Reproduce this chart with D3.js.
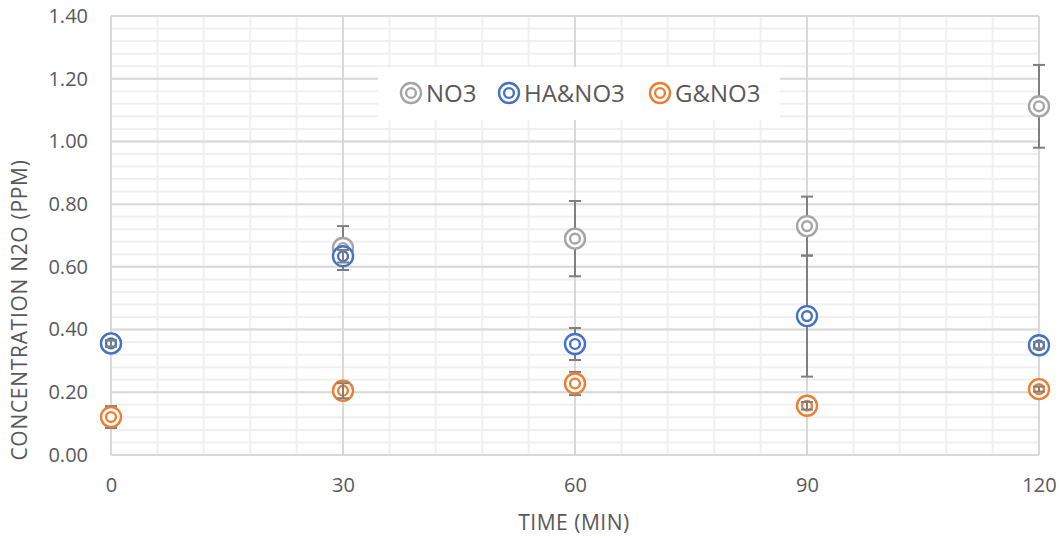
<!DOCTYPE html>
<html>
<head>
<meta charset="utf-8">
<script src="https://cdn.jsdelivr.net/npm/d3@7"></script>
<style>
  body { margin: 0; background: #fff; }
  text { font-family: "Open Sans", sans-serif; fill: #595959; }
</style>
</head>
<body>
<svg id="chart" width="1059" height="538"></svg>
<script>
// values
var times = [0, 30, 60, 90, 120];
var seriesNames = ["NO3", "HA&NO3", "G&NO3"];
var seriesColors = ["#a5a5a5", "#4472c4", "#ed7d31"];
var no3 = [0.355, 0.66, 0.69, 0.73, 1.112];
var no3Err = [0.01, 0.07, 0.12, 0.094, 0.132];
var haNo3 = [0.356, 0.634, 0.354, 0.443, 0.35];
var haNo3Err = [0.01, 0.02, 0.051, 0.193, 0.01];
var gNo3 = [0.121, 0.205, 0.228, 0.157, 0.21];
var gNo3Err = [0.035, 0.024, 0.037, 0.012, 0.008];
var xTicks = [0, 30, 60, 90, 120];
var yTicks = [0, 0.2, 0.4, 0.6, 0.8, 1.0, 1.2, 1.4];

var seriesValues = [no3, haNo3, gNo3];
var seriesErrs = [no3Err, haNo3Err, gNo3Err];

var svg = d3.select("#chart");
var x = d3.scaleLinear().domain([0, 120]).range([111, 1039]);
var y = d3.scaleLinear().domain([0, 1.4]).range([455, 16]);

// minor grid
var minorY = d3.range(0, 1.4001, 0.04);
var minorX = d3.range(0, 120.001, 6);
svg.append("g").selectAll("line").data(minorY).enter().append("line")
    .attr("x1", x(0)).attr("x2", x(120))
    .attr("y1", function (d) { return y(d); })
    .attr("y2", function (d) { return y(d); })
    .attr("stroke", "#f0f0f0").attr("stroke-width", 2);
svg.append("g").selectAll("line").data(minorX).enter().append("line")
    .attr("y1", y(0)).attr("y2", y(1.4))
    .attr("x1", function (d) { return x(d); })
    .attr("x2", function (d) { return x(d); })
    .attr("stroke", "#f0f0f0").attr("stroke-width", 2);

// major grid
svg.append("g").selectAll("line").data(yTicks).enter().append("line")
    .attr("x1", x(0)).attr("x2", x(120))
    .attr("y1", function (d) { return y(d); })
    .attr("y2", function (d) { return y(d); })
    .attr("stroke", "#d9d9d9").attr("stroke-width", 2);
svg.append("g").selectAll("line").data(xTicks).enter().append("line")
    .attr("y1", y(0)).attr("y2", y(1.4))
    .attr("x1", function (d) { return x(d); })
    .attr("x2", function (d) { return x(d); })
    .attr("stroke", "#d9d9d9").attr("stroke-width", 2);

// axes
var yAxis = svg.append("g")
    .attr("transform", "translate(" + x(0) + ",0)")
    .call(d3.axisLeft(y).tickValues(yTicks).tickFormat(d3.format(".2f")).tickSize(0).tickPadding(23));
var xAxis = svg.append("g")
    .attr("transform", "translate(0," + y(0) + ")")
    .call(d3.axisBottom(x).tickValues(xTicks).tickSize(0).tickPadding(23));
[yAxis, xAxis].forEach(function (a) {
    a.select(".domain").remove();
    a.selectAll("text").style("font-family", "'Open Sans', sans-serif")
        .style("font-size", "20px").attr("fill", "#595959");
});

// axis titles
svg.append("text")
    .attr("x", 574).attr("y", 530)
    .attr("text-anchor", "middle")
    .style("font-size", "21px").style("letter-spacing", "0.5px")
    .text("TIME (MIN)");
svg.append("text")
    .attr("transform", "translate(27,310) rotate(-90)")
    .attr("text-anchor", "middle")
    .style("font-size", "21px").style("letter-spacing", "0.7px")
    .text("CONCENTRATION N2O (PPM)");

function marker(g, color) {
    g.append("circle").attr("r", 10).attr("fill", "#fff")
        .attr("stroke", color).attr("stroke-width", 2.4);
    g.append("circle").attr("r", 4.9).attr("fill", "#fff")
        .attr("stroke", color).attr("stroke-width", 2.4);
}

function errorBar(g, t, v, e) {
    g.append("line")
        .attr("x1", x(t)).attr("x2", x(t))
        .attr("y1", y(v + e)).attr("y2", y(v - e));
    [v + e, v - e].forEach(function (c) {
        g.append("line")
            .attr("x1", x(t) - 6).attr("x2", x(t) + 6)
            .attr("y1", y(c)).attr("y2", y(c));
    });
}

var front = [];
seriesValues.forEach(function (vals, s) {
    var errG = svg.append("g").attr("stroke", "#7f7f7f").attr("stroke-width", 2);
    vals.forEach(function (v, i) {
        var e = seriesErrs[s][i];
        errorBar(errG, times[i], v, e);
        if (y(v - e) - y(v + e) < 16) front.push([times[i], v, e]);
    });
    var mg = svg.append("g");
    mg.selectAll("g").data(vals).enter().append("g")
        .attr("transform", function (d, i) { return "translate(" + x(times[i]) + "," + y(d) + ")"; })
        .each(function () { marker(d3.select(this), seriesColors[s]); });
});
// small error bars show on top of the markers
var frontG = svg.append("g").attr("stroke", "#7f7f7f").attr("stroke-width", 2);
front.forEach(function (f) { errorBar(frontG, f[0], f[1], f[2]); });

// legend
var legend = svg.append("g");
legend.append("rect").attr("x", 378).attr("y", 67).attr("width", 402).attr("height", 53).attr("fill", "#fff");
var legendX = [411, 509, 660];
seriesNames.forEach(function (name, s) {
    var g = legend.append("g").attr("transform", "translate(" + legendX[s] + ",93)");
    marker(g, seriesColors[s]);
    g.append("text").attr("x", 15).attr("dy", "0.36em")
        .style("font-size", "24px").text(name);
});
</script>
</body>
</html>
